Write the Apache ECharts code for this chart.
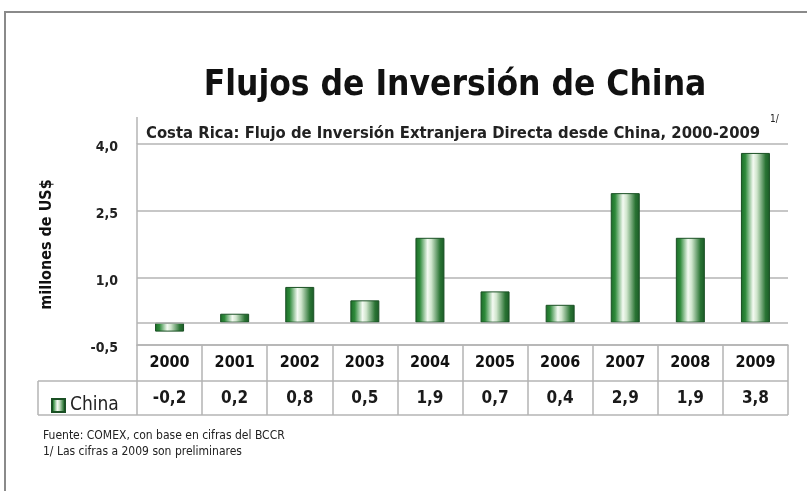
<!DOCTYPE html>
<html>
<head>
<meta charset="utf-8">
<script src="https://cdn.jsdelivr.net/npm/echarts@6/dist/echarts.min.js"></script>
<style>html,body{margin:0;padding:0;background:#fff}#c{width:807px;height:491px}</style>
</head>
<body>
<div id="c"></div>
<script>
const years = ['2000','2001','2002','2003','2004','2005','2006','2007','2008','2009'];
const china = [-0.2, 0.2, 0.8, 0.5, 1.9, 0.7, 0.4, 2.9, 1.9, 3.8];
const yTicks = [-0.5, 1.0, 2.5, 4.0];
const seriesName = 'China';
const titleText = 'Flujos de Inversión de China';
const subtitleText = 'Costa Rica: Flujo de Inversión Extranjera Directa desde China, 2000-2009';
const notes = ['Fuente: COMEX, con base en cifras del BCCR', '1/ Las cifras a 2009 son preliminares'];

const FONT = '"Liberation Sans Narrow","DejaVu Sans Condensed",sans-serif';
const fmt = v => v.toFixed(1).replace('.', ',');
const GL = 137, GR = 19, GT = 144, GB = 146;
const W = 807, H = 491;
const tableTop = H - GB, rowMid = tableTop + 36, tableBot = tableTop + 70;
const lineCol = '#b4b4b4';

const chart = echarts.init(document.getElementById('c'), null, {renderer: 'canvas'});
const barGrad = new echarts.graphic.LinearGradient(0, 0, 1, 0, [
  {offset: 0, color: '#1b6a28'},
  {offset: 0.15, color: '#2e8a3a'},
  {offset: 0.42, color: '#f4faf2'},
  {offset: 0.55, color: '#cfe5cc'},
  {offset: 0.85, color: '#2a7434'},
  {offset: 1, color: '#1a5a26'}
]);

chart.setOption({
  animation: false,
  title: [
    {text: titleText, left: 450, textAlign: 'center', top: 63,
     textStyle: {fontFamily: FONT, fontSize: 35, fontWeight: 'bold', color: '#111'}},
    {text: subtitleText, left: 141, top: 120,
     textStyle: {fontFamily: FONT, fontSize: 16.5, fontWeight: 'bold', color: '#222'}},
    {text: '1/', left: 765, top: 109,
     textStyle: {fontFamily: FONT, fontSize: 10, fontWeight: 'normal', color: '#222'}},
    {text: notes.join('\n'), left: 38, top: 423,
     textStyle: {fontFamily: FONT, fontSize: 12, fontWeight: 'normal', color: '#222', lineHeight: 16}}
  ],
  legend: {
    data: [{name: seriesName, icon: 'rect'}],
    left: 46, top: 391, itemWidth: 13, itemHeight: 13, itemGap: 8,
    textStyle: {fontFamily: FONT, fontSize: 19, color: '#222'},
    selectedMode: false
  },
  grid: {left: GL, right: GR, top: GT, bottom: GB, containLabel: false},
  xAxis: {
    type: 'category', data: years,
    axisLine: {onZero: false, lineStyle: {color: lineCol, width: 1.5}},
    axisTick: {show: true, length: 70, lineStyle: {color: lineCol, width: 1.5}},
    axisLabel: {
      margin: 0,
      formatter: (v, i) => '{y|' + v + '}\n{v|' + fmt(china[i]) + '}',
      rich: {
        y: {fontFamily: FONT, fontSize: 16, fontWeight: 'bold', color: '#111', lineHeight: 36, height: 36},
        v: {fontFamily: FONT, fontSize: 17, fontWeight: 'bold', color: '#1a1a1a', lineHeight: 36, height: 36}
      }
    },
    splitLine: {show: false}
  },
  yAxis: {
    type: 'value', min: yTicks[0], max: yTicks[yTicks.length - 1], interval: yTicks[1] - yTicks[0],
    name: 'millones de US$', nameLocation: 'middle', nameGap: 82, nameRotate: 90,
    nameTextStyle: {fontFamily: FONT, fontSize: 16, fontWeight: 'bold', color: '#111'},
    axisLine: {show: true, lineStyle: {color: lineCol, width: 1.5}},
    axisTick: {show: false},
    axisLabel: {margin: 19, fontFamily: FONT, fontSize: 14, fontWeight: 'bold', color: '#222',
      formatter: v => fmt(v), verticalAlign: 'top', padding: [-4, 0, 0, 0]},
    splitLine: {lineStyle: {color: lineCol, width: 1.5}}
  },
  series: [{
    name: seriesName, type: 'bar', data: china, barWidth: 29,
    itemStyle: {color: barGrad, borderColor: '#1a5024', borderWidth: 1},
    markLine: {silent: true, symbol: 'none', label: {show: false},
      lineStyle: {color: lineCol, width: 1.5, type: 'solid'}, data: [{yAxis: 0}]}
  }],
  graphic: [
    {type: 'rect', shape: {x: 5, y: 12, width: 900, height: 600}, silent: true,
     style: {fill: 'none', stroke: '#8a8a8a', lineWidth: 2}},
    {type: 'line', shape: {x1: GL, y1: 117, x2: GL, y2: GT}, silent: true,
     style: {stroke: lineCol, lineWidth: 1.5}},
    {type: 'line', shape: {x1: 38, y1: rowMid, x2: W - GR, y2: rowMid}, silent: true,
     style: {stroke: lineCol, lineWidth: 1.5}},
    {type: 'line', shape: {x1: 38, y1: tableBot, x2: W - GR, y2: tableBot}, silent: true,
     style: {stroke: lineCol, lineWidth: 1.5}},
    {type: 'line', shape: {x1: 38, y1: rowMid, x2: 38, y2: tableBot}, silent: true,
     style: {stroke: lineCol, lineWidth: 1.5}}
  ]
});
</script>
</body>
</html>
